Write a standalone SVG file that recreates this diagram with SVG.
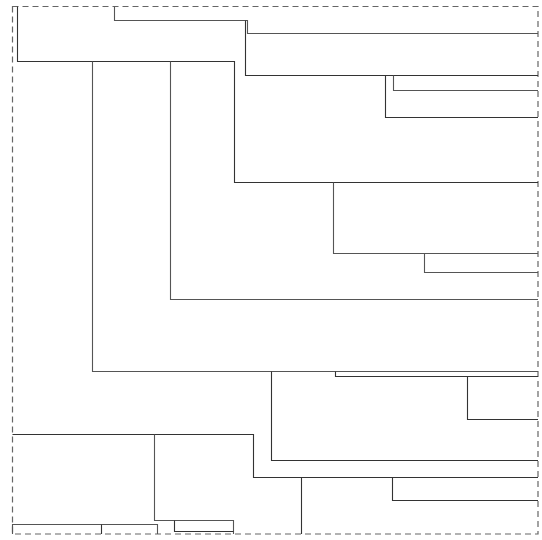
<svg xmlns="http://www.w3.org/2000/svg" width="542" height="540" viewBox="0 0 542 540">
<style>
.frame{fill:none;stroke:#666;stroke-width:1.2;stroke-dasharray:6,4}
.ln{fill:none;stroke:#333;stroke-width:1.1}
.lt{fill:none;stroke:#555;stroke-width:1.1}
</style>
<rect width="542" height="540" fill="#fff"/>
<g id="frame">
<rect class="frame" x="12.5" y="6.5" width="525.5" height="527.5"/>
</g>
<g id="connectors">
<polyline class="ln" points="17.5,6.5 17.5,61.5 234.5,61.5 234.5,182.5 538,182.5"/>
<polyline class="lt" points="114.5,6.5 114.5,20.5 247.5,20.5 247.5,33.5 538,33.5"/>
<polyline class="ln" points="245.5,20.5 245.5,75.5 538,75.5"/>
<polyline class="ln" points="385.5,75.5 385.5,117.5 538,117.5"/>
<polyline class="lt" points="393.5,75.5 393.5,90.5 538,90.5"/>
<polyline class="lt" points="92.5,61.5 92.5,371.5 538,371.5"/>
<polyline class="lt" points="170.5,61.5 170.5,299.5 538,299.5"/>
<polyline class="lt" points="333.5,182.5 333.5,253.5 538,253.5"/>
<polyline class="lt" points="424.5,253.5 424.5,272.5 538,272.5"/>
<polyline class="ln" points="271.5,371.5 271.5,460.5 538,460.5"/>
<polyline class="ln" points="335.5,371.5 335.5,376.5 538,376.5"/>
<polyline class="ln" points="467.5,376.5 467.5,419.5 538,419.5"/>
<polyline class="ln" points="12.5,434.5 253.5,434.5 253.5,477.5 538,477.5"/>
<polyline class="ln" points="301.5,477.5 301.5,534"/>
<polyline class="ln" points="392.5,477.5 392.5,500.5 538,500.5"/>
<polyline class="lt" points="154.5,434.5 154.5,520.5 233.5,520.5 233.5,534"/>
<polyline class="ln" points="174.5,520.5 174.5,531.5 233.5,531.5"/>
<polyline class="lt" points="12.5,534 12.5,524.5 157.5,524.5 157.5,534"/>
<polyline class="ln" points="101.5,524.5 101.5,534"/>
</g>
</svg>
